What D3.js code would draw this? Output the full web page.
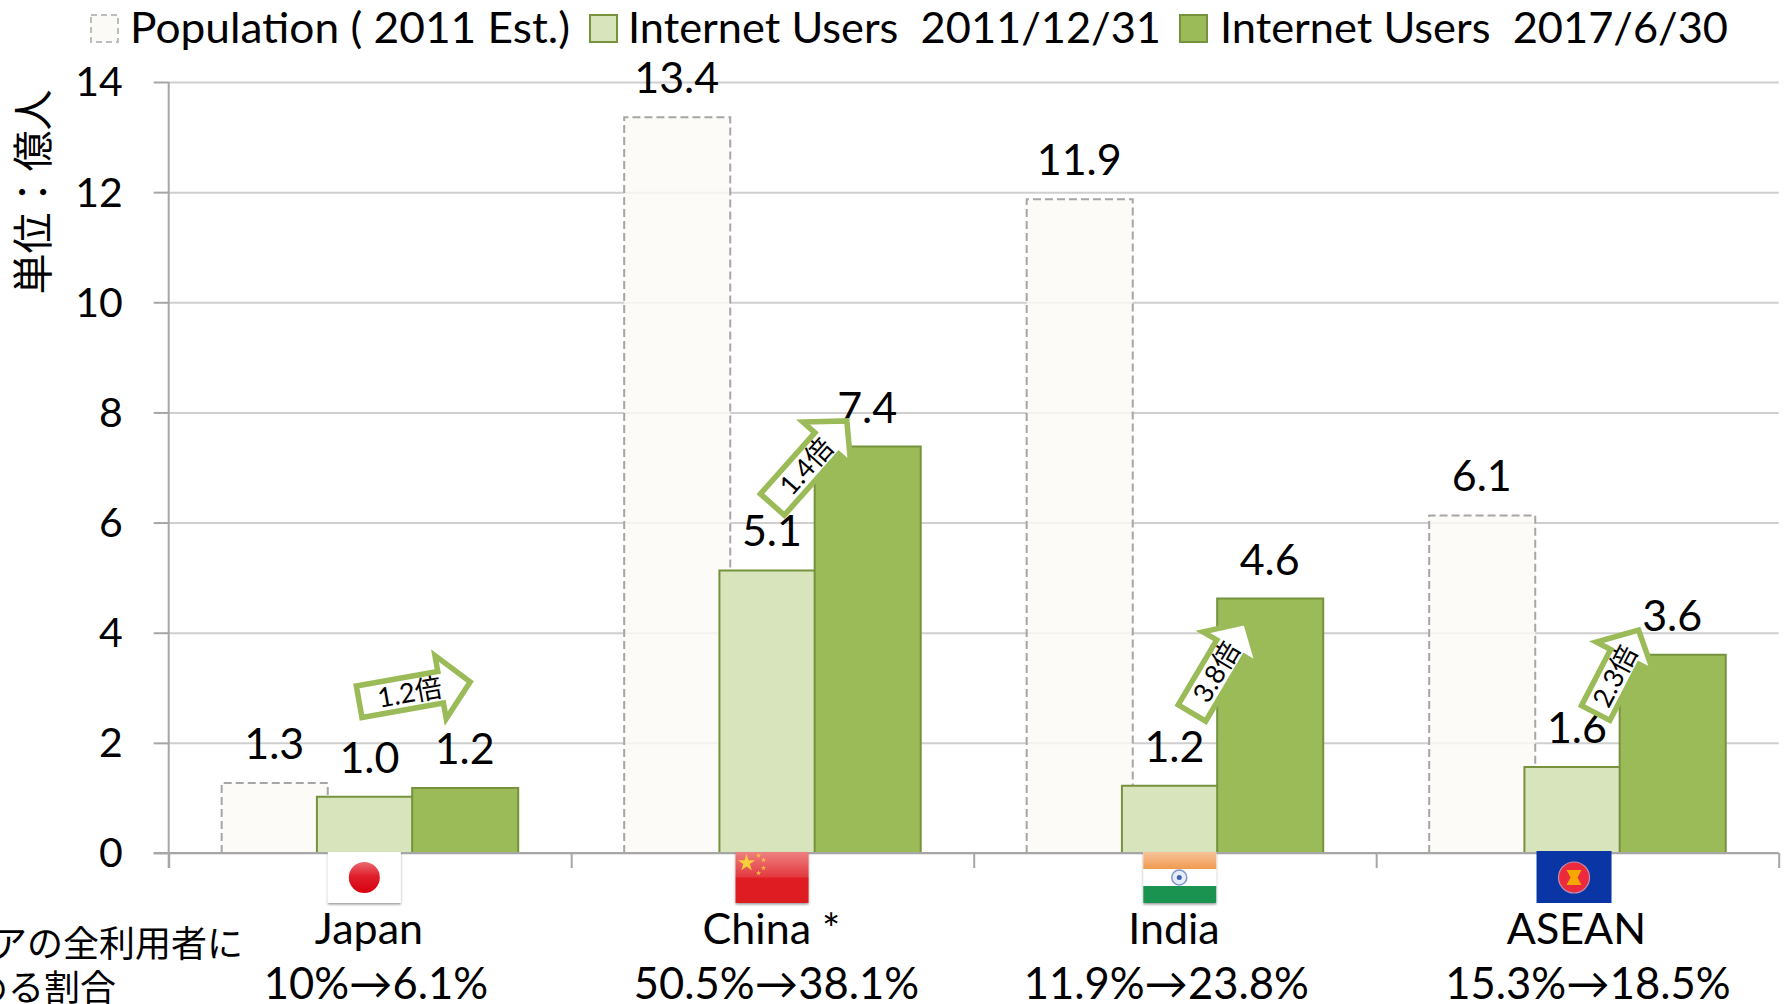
<!DOCTYPE html>
<html><head><meta charset="utf-8">
<script src="https://cdn.jsdelivr.net/npm/d3@7"></script>
<style>
html,body{margin:0;padding:0;background:#fff;overflow:hidden}
svg{display:block}
text{font-family:Lato,"Noto Sans CJK JP",sans-serif;fill:#000;white-space:pre}
</style></head><body>
<svg id="chart" width="1787" height="1004"></svg>
<script>
const categories = ["Japan","China *","India","ASEAN"];
const seriesNames = ["Population ( 2011 Est.)","Internet Users  2011/12/31","Internet Users  2017/6/30"];
const population = [1.27,13.36,11.87,6.13];
const users2011 = [1.02,5.13,1.22,1.56];
const users2017 = [1.18,7.38,4.62,3.6];
const shareLabels = ["10%→6.1%","50.5%→38.1%","11.9%→23.8%","15.3%→18.5%"];
const shareShift = [6,4,-8.7,10.5];
const yTicks = [0,2,4,6,8,10,12,14];
const arrowLabels = ["1.2倍","1.4倍","3.8倍","2.3倍"];
const arrowTailFrac = [.4683,.4965,.5397,.5431];
const arrowTipFrac = [.7587,.6914,.6812,.6565];
const arrowTailValue = [2.74,6.30,2.51,2.51];
const arrowTipValue = [3.12,7.90,4.25,4.11];
const flagFrac = [.486,.499,.512,.489];

const svg = d3.select("#chart");
const L=168.7,R=1778.7,T=82,B=853;
const y=d3.scaleLinear().domain([0,14]).range([B,T]);
const xCat=d3.scaleBand().domain(categories).range([L,R]);
const xEdge=d3.scaleLinear().domain([0,4]).range([L,R]);
const step=xCat.step();
const barW=step*0.2635, offs=barW*0.898;
const xSer=d3.scaleBand().domain(seriesNames).range([(step-barW-2*offs)/2+0,(step-barW-2*offs)/2+3*offs]);
const styles=[
 {fill:"#FBFAF6",op:.8,stroke:"#A6A6A6",dash:"8 4"},
 {fill:"#D8E4BC",op:1,stroke:"#76923C",dash:null},
 {fill:"#9BBB59",op:1,stroke:"#76923C",dash:null}];
const FS=43;

// gridlines
const grid=svg.append("g").attr("transform",`translate(${L},0)`)
 .call(d3.axisLeft(y).tickValues(yTicks).tickSize(-(R-L)).tickFormat(""));
grid.select(".domain").remove();
grid.selectAll("line").attr("stroke","#CFCFCF").attr("stroke-width",2);

// bars
[population,users2011,users2017].forEach((vals,s)=>{
 const st=styles[s];
 const g=svg.append("g");
 g.selectAll("path").data(vals).join("path")
  .attr("d",(v,i)=>{
    const x0=xCat(categories[i])+xSer(seriesNames[s]),y0=y(v);
    return d3.line()([[x0,B],[x0,y0],[x0+barW,y0],[x0+barW,B]]);
  })
  .attr("fill",st.fill).attr("fill-opacity",st.op)
  .attr("stroke",st.stroke).attr("stroke-width",2)
  .attr("stroke-dasharray",st.dash);
});

// axes
const yAxis=svg.append("g").attr("transform",`translate(${L},0)`)
 .call(d3.axisLeft(y).tickValues(yTicks).tickSize(15).tickPadding(31).tickFormat(d3.format("d")));
yAxis.selectAll("line,path").attr("stroke","#A6A6A6").attr("stroke-width",2);
yAxis.select(".domain").attr("d",`M0,${T}V${B+15}`);
yAxis.selectAll("text").attr("font-size",41).attr("font-family",null).attr("dy","0.34em");
const xAxis=svg.append("g").attr("transform",`translate(0,${B})`)
 .call(d3.axisBottom(xEdge).tickValues([0,1,2,3,4]).tickSize(15).tickFormat(""));
xAxis.selectAll("line,path").attr("stroke","#A6A6A6").attr("stroke-width",2);
xAxis.select(".domain").attr("d",`M${L-15},0H${R}`);

// value labels
[population,users2011,users2017].forEach((vals,s)=>{
 svg.append("g").selectAll("text").data(vals).join("text")
  .attr("x",(v,i)=>xCat(categories[i])+xSer(seriesNames[s])+barW/2-0.5)
  .attr("y",v=>y(v)-24)
  .attr("text-anchor","middle").attr("font-size",FS)
  .text(d3.format(".1f"));
});

// flags
const defs=svg.append("defs");
const f=defs.append("filter").attr("id","sh").attr("x","-10%").attr("y","-10%").attr("width","120%").attr("height","125%");
f.append("feDropShadow").attr("dx",0).attr("dy",1.5).attr("stdDeviation",1.2).attr("flood-color","#000").attr("flood-opacity",.4);
function grad(id,stops){
 const g=defs.append("linearGradient").attr("id",id).attr("x1",0).attr("x2",0).attr("y1",0).attr("y2",1);
 stops.forEach(s=>g.append("stop").attr("offset",s[0]).attr("stop-color",s[1]));
}
grad("redFlag",[[0,"#EE8080"],[.48,"#E33B40"],[.52,"#DF1A20"],[1,"#DD1C20"]]);
grad("redDisc",[[0,"#E96A72"],[.45,"#E0202C"],[1,"#D8000F"]]);
grad("orange",[[0,"#F6C49A"],[1,"#F09A50"]]);
const FW=73,FH=51;
categories.forEach((c,i)=>{
 const cx=xCat(c)+step*flagFrac[i];
 const g=svg.append("g").attr("transform",`translate(${cx-FW/2},${B-1})`);
 if(i===0){
  g.append("rect").attr("width",FW).attr("height",FH).attr("fill","#fff").attr("filter","url(#sh)");
  g.append("circle").attr("cx",FW/2).attr("cy",25.5).attr("r",15.5).attr("fill","url(#redDisc)");
 } else if(i===1){
  g.append("rect").attr("width",FW).attr("height",FH).attr("fill","url(#redFlag)").attr("filter","url(#sh)");
  g.append("path").attr("transform","translate(11,11)")
   .attr("d",d3.symbol().type(d3.symbolStar).size(90)()).attr("fill","#F8D13A");
  [[23,3.5],[28,8],[28,16],[23,21]].forEach(p=>g.append("path").attr("transform",`translate(${p[0]},${p[1]})`)
   .attr("d",d3.symbol().type(d3.symbolStar).size(9)()).attr("fill","#F5C040"));
 } else if(i===2){
  g.append("rect").attr("width",FW).attr("height",FH).attr("fill","#fff").attr("filter","url(#sh)");
  g.append("rect").attr("width",FW).attr("height",17).attr("fill","url(#orange)");
  g.append("rect").attr("y",34).attr("width",FW).attr("height",17).attr("fill","#1A9350");
  g.append("circle").attr("cx",36).attr("cy",25.5).attr("r",7.5).attr("fill","#E6ECF8").attr("stroke","#7D95CE").attr("stroke-width",1.5);
  g.append("circle").attr("cx",36).attr("cy",25.5).attr("r",2.5).attr("fill","#3F5FB0");
 } else {
  g.append("rect").attr("width",75).attr("height",FH+1).attr("y",-1).attr("fill","#0A35A5");
  g.append("circle").attr("cx",37.5).attr("cy",25.5).attr("r",15.5).attr("fill","#EC2A3E").attr("stroke","#C08EB0").attr("stroke-width",1.2);
  g.append("path").attr("d",d3.line()([[30,18],[45,18],[41,25.5],[45,33],[30,33],[34,25.5]])).attr("fill","#F5A800");
 }
});

// growth arrows
const shaftHalf=16, headHalf=32, headLen=32;
categories.forEach((c,i)=>{
 const x0=xCat(c);
 const a=[x0+step*arrowTailFrac[i],y(arrowTailValue[i])];
 const b=[x0+step*arrowTipFrac[i],y(arrowTipValue[i])];
 const dx=b[0]-a[0],dy=b[1]-a[1],len=Math.hypot(dx,dy),deg=Math.atan2(dy,dx)*180/Math.PI;
 const g=svg.append("g").attr("transform",`translate(${a[0]},${a[1]}) rotate(${deg})`);
 const pts=[[2,-shaftHalf],[len-headLen-2,-shaftHalf],[len-headLen-2,-headHalf],[len-4,0],[len-headLen-2,headHalf],[len-headLen-2,shaftHalf],[2,shaftHalf]];
 g.append("path").attr("d",d3.line()(pts)+"Z").attr("fill","#fff").attr("stroke","#9BBB59").attr("stroke-width",5.5).attr("stroke-linejoin","miter").attr("stroke-miterlimit",6);
 g.append("text").attr("x",(len-12)/2).attr("y",9.5).attr("text-anchor","middle").attr("font-size",27).text(arrowLabels[i]);
});

// category labels
svg.append("g").selectAll("text").data(categories).join("text")
 .attr("x",d=>xCat(d)+step/2-1).attr("y",944).attr("text-anchor","middle").attr("font-size",43).text(d=>d);
svg.append("g").selectAll("text").data(shareLabels).join("text")
 .attr("x",(d,i)=>xCat(categories[i])+step/2+shareShift[i]).attr("y",999).attr("text-anchor","middle").attr("font-size",43.5).text(d=>d);

// left note (runs off the left edge in the reference)
const noteLines=["アジアの全利用者に","占める割合"];
const noteEnd=[243,116],noteY=[957,1001];
svg.append("g").selectAll("text").data(noteLines).join("text")
 .attr("x",(d,i)=>noteEnd[i]).attr("y",(d,i)=>noteY[i]).attr("text-anchor","end").attr("font-size",36)
 .attr("style",'font-family:"Noto Sans CJK JP"').text(d=>d);

// y title
svg.append("text").attr("transform","translate(48,192) rotate(-90)").attr("text-anchor","middle")
 .attr("font-size",41).attr("style",'font-family:"Noto Sans CJK JP"').text("単位：億人");

// legend
const legSwatchX=[91,590,1180], legTextX=[130,628,1220], legTextW=[440,533,508];
const lg=svg.append("g");
seriesNames.forEach((n,i)=>{
 lg.append("rect").attr("x",legSwatchX[i]).attr("y",15).attr("width",27).attr("height",27)
  .attr("fill",styles[i].fill).attr("stroke",styles[i].stroke==="#A6A6A6"?"#BDBDBD":styles[i].stroke).attr("stroke-width",2)
  .attr("stroke-dasharray",i===0?"6 4":null);
 lg.append("text").attr("x",legTextX[i]).attr("y",43).attr("font-size",42)
  .attr("textLength",legTextW[i]).attr("lengthAdjust","spacingAndGlyphs").text(n);
});
</script>
</body></html>
